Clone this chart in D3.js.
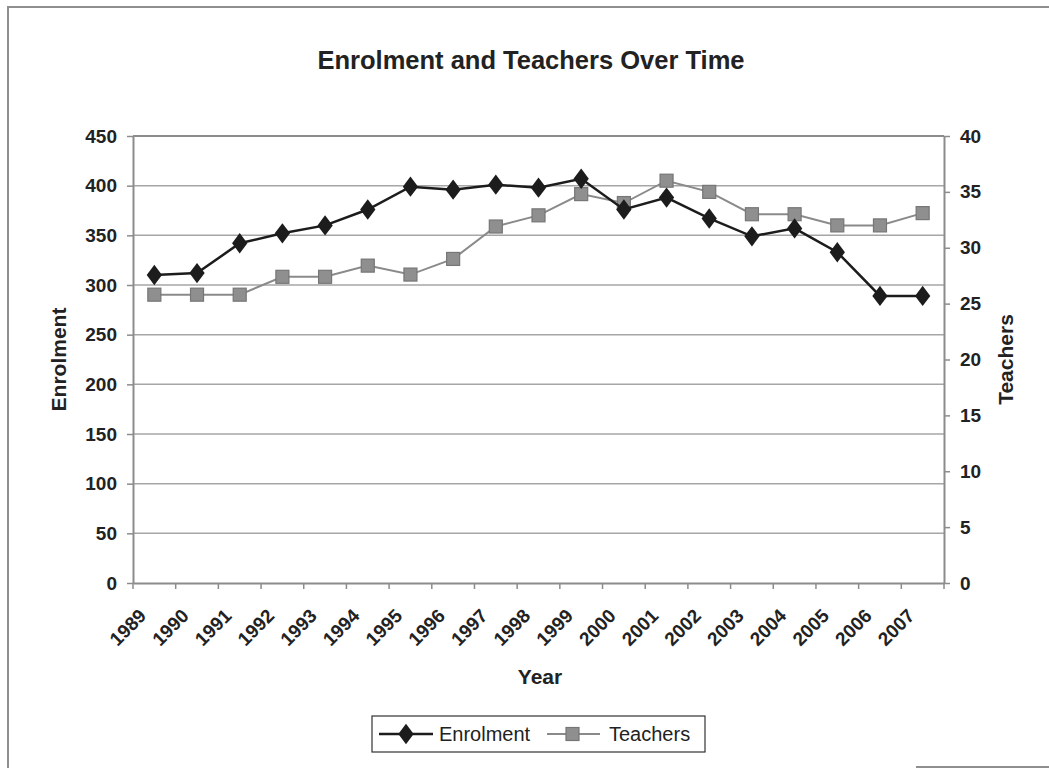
<!DOCTYPE html>
<html>
<head>
<meta charset="utf-8">
<script src="https://cdn.jsdelivr.net/npm/d3@7"></script>
<style>
  body { margin: 0; background: #fff; }
  svg { display: block; font-family: "Liberation Sans", Arial, sans-serif; }
</style>
</head>
<body>
<div id="chart"></div>
<script>
// values
var years = ['1989', '1990', '1991', '1992', '1993', '1994', '1995', '1996', '1997', '1998',
  '1999', '2000', '2001', '2002', '2003', '2004', '2005', '2006', '2007'];
var enrolment = [310, 312, 342, 352, 360, 376, 399, 396, 401, 398,
  407, 376, 388, 367, 349, 357, 333, 289, 289];
var teachers = [25.8, 25.8, 25.8, 27.4, 27.4, 28.4, 27.6, 29, 31.9, 32.9,
  34.8, 34, 36, 35, 33, 33, 32, 32, 33.1];
var leftTicks = [0, 50, 100, 150, 200, 250, 300, 350, 400, 450];
var rightTicks = [0, 5, 10, 15, 20, 25, 30, 35, 40];

var width = 1049,
  height = 768,
  plot = { left: 133, right: 944, top: 136, bottom: 583 },
  enrolColor = '#1c1c1c',
  teachColor = '#8a8a8a',
  axisColor = '#8c8c8c',
  textColor = '#222';

var svg = d3.select('#chart')
  .append('svg')
  .attr('width', width)
  .attr('height', height);

// outer frame of the scanned chart (only left/top edges visible)
svg.append('path')
  .attr('d', 'M8,768 L8,7 L1049,7 M916,767 L1049,767')
  .style('fill', 'none')
  .style('stroke', '#8f8f8f')
  .style('stroke-width', 2);

var x = d3.scaleBand()
  .domain(years)
  .range([plot.left, plot.right]);

var yL = d3.scaleLinear()
  .domain([0, 450])
  .range([plot.bottom, plot.top]);

var yR = d3.scaleLinear()
  .domain([0, 40])
  .range([plot.bottom, plot.top]);

// gridlines
svg.append('g')
  .selectAll('line')
  .data(leftTicks.filter(function(d) { return d > 0; }))
  .enter()
  .append('line')
  .attr('x1', plot.left)
  .attr('x2', plot.right)
  .attr('y1', function(d) { return yL(d); })
  .attr('y2', function(d) { return yL(d); })
  .style('stroke', '#a6a6a6')
  .style('stroke-width', 1.5);

// axes
function styleAxis(g) {
  g.selectAll('.domain').style('stroke', axisColor).style('stroke-width', 2);
  g.selectAll('.tick line').style('stroke', axisColor).style('stroke-width', 1.5);
  g.selectAll('.tick text')
    .style('font-size', '19px')
    .style('font-weight', 'bold')
    .style('fill', textColor);
}

svg.append('g')
  .attr('transform', 'translate(' + plot.left + ',0)')
  .call(d3.axisLeft(yL).tickValues(leftTicks).tickSize(6).tickSizeOuter(0).tickPadding(10))
  .call(styleAxis);

svg.append('g')
  .attr('transform', 'translate(' + plot.right + ',0)')
  .call(d3.axisRight(yR).tickValues(rightTicks).tickSize(6).tickSizeOuter(0).tickPadding(10))
  .call(styleAxis);

svg.append('g')
  .attr('transform', 'translate(0,' + plot.bottom + ')')
  .call(d3.axisBottom(x).tickSize(0).tickSizeOuter(0).tickFormat(''))
  .call(styleAxis);

// category boundary ticks
svg.append('g')
  .selectAll('line')
  .data(d3.range(years.length + 1))
  .enter()
  .append('line')
  .attr('x1', function(i) { return plot.left + i * x.step(); })
  .attr('x2', function(i) { return plot.left + i * x.step(); })
  .attr('y1', plot.bottom)
  .attr('y2', plot.bottom + 6)
  .style('stroke', axisColor)
  .style('stroke-width', 1.5);

// top border of plot area
svg.append('line')
  .attr('x1', plot.left).attr('x2', plot.right)
  .attr('y1', plot.top).attr('y2', plot.top)
  .style('stroke', axisColor)
  .style('stroke-width', 2);

// rotated year labels
svg.append('g')
  .selectAll('text')
  .data(years)
  .enter()
  .append('text')
  .attr('transform', function(d) {
    return 'translate(' + (x(d) + x.bandwidth() / 2 - 7) + ',' + (plot.bottom + 34) + ') rotate(-45)';
  })
  .attr('text-anchor', 'end')
  .style('font-size', '19px')
  .style('font-weight', 'bold')
  .style('fill', textColor)
  .text(function(d) { return d; });

// titles
svg.append('text')
  .attr('x', 531).attr('y', 69)
  .attr('text-anchor', 'middle')
  .style('font-size', '25.5px')
  .style('font-weight', 'bold')
  .style('fill', textColor)
  .text('Enrolment and Teachers Over Time');

svg.append('text')
  .attr('x', 540).attr('y', 684)
  .attr('text-anchor', 'middle')
  .style('font-size', '21px')
  .style('font-weight', 'bold')
  .style('fill', textColor)
  .text('Year');

svg.append('text')
  .attr('transform', 'translate(66,' + (plot.top + plot.bottom) / 2 + ') rotate(-90)')
  .attr('text-anchor', 'middle')
  .style('font-size', '21px')
  .style('font-weight', 'bold')
  .style('fill', textColor)
  .text('Enrolment');

svg.append('text')
  .attr('transform', 'translate(1013,' + (plot.top + plot.bottom) / 2 + ') rotate(-90)')
  .attr('text-anchor', 'middle')
  .style('font-size', '21px')
  .style('font-weight', 'bold')
  .style('fill', textColor)
  .text('Teachers');

// series
function cx(d, i) { return x(years[i]) + x.bandwidth() / 2; }

svg.append('path')
  .datum(teachers)
  .attr('d', d3.line().x(cx).y(function(d) { return yR(d); }))
  .style('fill', 'none')
  .style('stroke', teachColor)
  .style('stroke-width', 2);

svg.append('g')
  .selectAll('rect')
  .data(teachers)
  .enter()
  .append('rect')
  .attr('x', function(d, i) { return cx(d, i) - 6.5; })
  .attr('y', function(d) { return yR(d) - 6.5; })
  .attr('width', 13)
  .attr('height', 13)
  .style('fill', '#8f8f8f')
  .style('stroke', '#767676')
  .style('stroke-width', 1.2);

svg.append('path')
  .datum(enrolment)
  .attr('d', d3.line().x(cx).y(function(d) { return yL(d); }))
  .style('fill', 'none')
  .style('stroke', enrolColor)
  .style('stroke-width', 2.5);

var diamond = d3.symbol().type(d3.symbolDiamond).size(120);

svg.append('g')
  .selectAll('path')
  .data(enrolment)
  .enter()
  .append('path')
  .attr('d', diamond)
  .attr('transform', function(d, i) { return 'translate(' + cx(d, i) + ',' + yL(d) + ') scale(1.3,1)'; })
  .style('fill', enrolColor);

// legend
var legend = svg.append('g');

legend.append('rect')
  .attr('x', 372).attr('y', 716)
  .attr('width', 333).attr('height', 36)
  .style('fill', '#fff')
  .style('stroke', '#333')
  .style('stroke-width', 1.2);

legend.append('line')
  .attr('x1', 379).attr('x2', 433).attr('y1', 734).attr('y2', 734)
  .style('stroke', enrolColor).style('stroke-width', 2.5);
legend.append('path')
  .attr('d', diamond)
  .attr('transform', 'translate(406,734) scale(1.3,1)')
  .style('fill', enrolColor);
legend.append('text')
  .attr('x', 439).attr('y', 741)
  .style('font-size', '20px')
  .style('fill', textColor)
  .text('Enrolment');

legend.append('line')
  .attr('x1', 547).attr('x2', 600).attr('y1', 734).attr('y2', 734)
  .style('stroke', teachColor).style('stroke-width', 2);
legend.append('rect')
  .attr('x', 566).attr('y', 727.5).attr('width', 13).attr('height', 13)
  .style('fill', '#8f8f8f').style('stroke', '#767676').style('stroke-width', 1.2);
legend.append('text')
  .attr('x', 609).attr('y', 741)
  .style('font-size', '20px')
  .style('fill', textColor)
  .text('Teachers');
</script>
</body>
</html>
